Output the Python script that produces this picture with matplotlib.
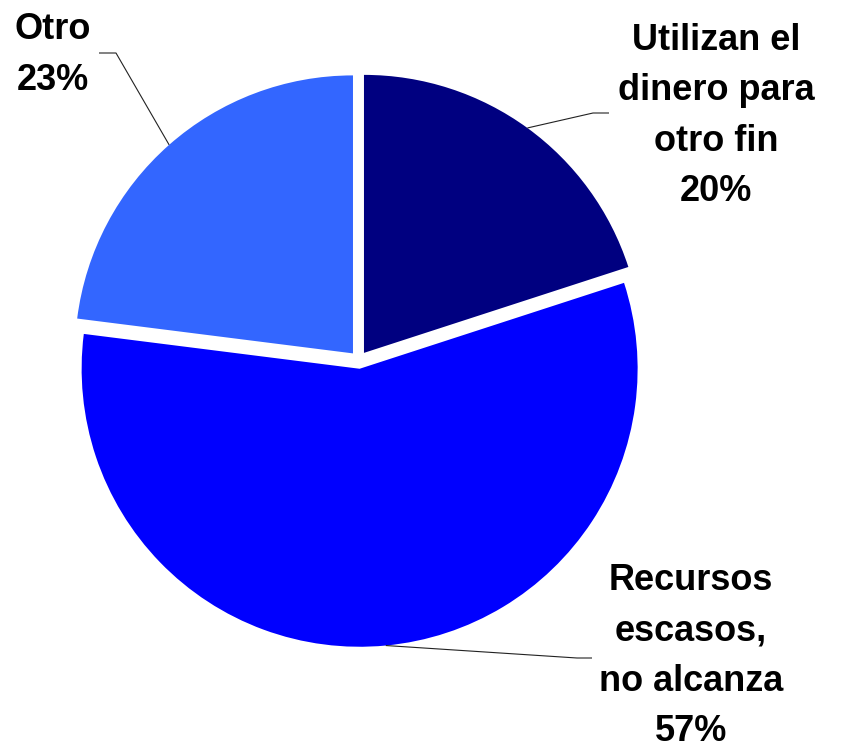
import numpy as np
import matplotlib
matplotlib.use("Agg")
import matplotlib.pyplot as plt

# ---- data ----
categories = ["Utilizan el\ndinero para\notro fin", "Recursos\nescasos,\nno alcanza", "Otro"]
values = [20, 57, 23]
colors = ["#000080", "#0000FF", "#3366FF"]

# ---- layout (pixel coordinates, y measured from top) ----
W, H = 852, 750
center_px = (358.8, 360.0)
radius = 278.0
explode_px = 8.8
label_pos = [(716, 116), (691, 656), (53, 55)]
leader_end = [(609, 113), (592, 658), (99, 53)]
leader_elbow = [(593, 113), (577, 658), (116, 53)]

plt.rcParams['font.family'] = ['Liberation Sans', 'DejaVu Sans']

fig = plt.figure(figsize=(W / 100, H / 100), dpi=100)
ax = fig.add_axes([0, 0, 1, 1])

def fy(y):
    return H - y

cx, cy = center_px[0], fy(center_px[1])
wedges, _ = ax.pie(values, colors=colors, startangle=90, counterclock=False,
                   radius=radius, center=(cx, cy),
                   explode=[explode_px] * len(values),
                   wedgeprops=dict(linewidth=0))

ax.set_xlim(0, W)
ax.set_ylim(0, H)
ax.set_aspect('auto')
ax.axis('off')

for w, lab, v, lp, le, el in zip(wedges, categories, values, label_pos, leader_end, leader_elbow):
    thm = np.deg2rad((w.theta1 + w.theta2) / 2)
    wx, wy = w.center
    tip = (wx + w.r * np.cos(thm), wy + w.r * np.sin(thm))
    ax.plot([le[0], el[0], tip[0]], [fy(le[1]), fy(el[1]), tip[1]],
            color="#222222", lw=0.8, solid_capstyle='butt')
    ax.text(lp[0], fy(lp[1]), f"{lab}\n{v}%", ha='center', va='center',
            multialignment='center', fontsize=26, fontweight='bold',
            linespacing=1.58, color='black')

fig.savefig("out.png", dpi=100)
